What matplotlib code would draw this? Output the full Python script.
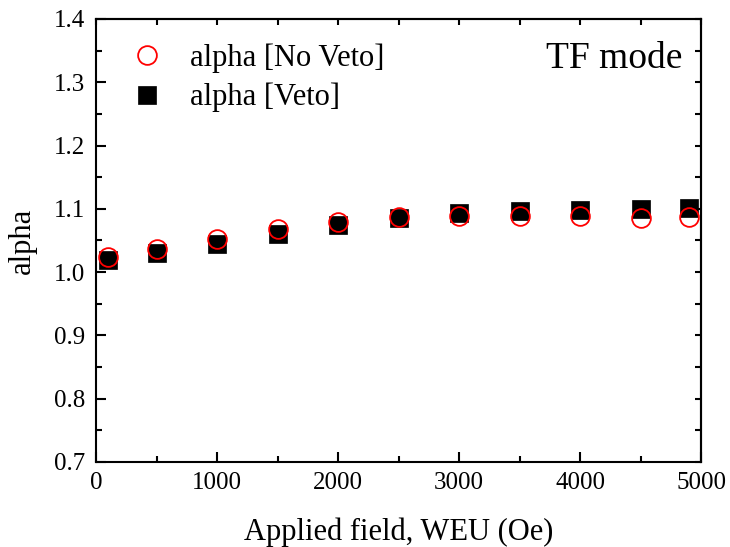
"""alpha vs applied field, TF mode: veto / no-veto comparison."""

import matplotlib
matplotlib.use("Agg")
import matplotlib.pyplot as plt
import matplotlib.ticker as ticker
import numpy as np

plt.rcParams["font.family"] = ["Liberation Serif", "DejaVu Serif"]

# field values (Oe)
field = [100, 500, 1000, 1500, 2000, 2500, 3000, 3500, 4000, 4500, 4900]
alpha_no_veto = [1.024, 1.036, 1.052, 1.068, 1.080, 1.087, 1.089, 1.089, 1.089, 1.085, 1.087]
alpha_veto = [1.019, 1.030, 1.045, 1.061, 1.074, 1.085, 1.093, 1.097, 1.098, 1.100, 1.102]

W, H = 730, 547
fig = plt.figure(figsize=(W / 100, H / 100), dpi=100)
ax = fig.add_axes([96 / W, (H - 462) / H, 605 / W, 443 / H])

ax.plot(field, alpha_veto, linestyle="none", marker="s", ms=12.5,
        mfc="black", mec="black", mew=0.5, label="alpha [Veto]", zorder=3)
ax.plot(field, alpha_no_veto, linestyle="none", marker="o", ms=13.5,
        mfc="none", mec="#ff0000", mew=1.3, label="alpha [No Veto]", zorder=4)

ax.set_xlim(0, 5000)
ax.set_ylim(0.7, 1.4)
ax.xaxis.set_major_locator(ticker.MultipleLocator(1000))
ax.xaxis.set_minor_locator(ticker.MultipleLocator(500))
ax.yaxis.set_major_locator(ticker.MultipleLocator(0.1))
ax.yaxis.set_minor_locator(ticker.MultipleLocator(0.05))
ax.yaxis.set_major_formatter(ticker.FormatStrFormatter("%.1f"))

for s in ax.spines.values():
    s.set_linewidth(1.5)
ax.tick_params(which="both", direction="in", width=1.5, labelsize=18)
ax.tick_params(which="major", length=7)
ax.tick_params(which="minor", length=4)
ax.tick_params(axis="x", pad=7)
ax.tick_params(axis="y", pad=8)

# top / right: short ticks only, no labels
top = ax.secondary_xaxis("top")
top.set_xticks(np.arange(0, 5001, 500))
top.tick_params(direction="in", length=4, width=1.5, labeltop=False)
top.xaxis.set_minor_locator(ticker.NullLocator())
right = ax.secondary_yaxis("right")
right.set_yticks(np.arange(0.7, 1.401, 0.05))
right.tick_params(direction="in", length=4, width=1.5, labelright=False)
right.yaxis.set_minor_locator(ticker.NullLocator())
for s in list(top.spines.values()) + list(right.spines.values()):
    s.set_linewidth(1.5)

ax.set_xlabel("Applied field, WEU (Oe)", fontsize=22, labelpad=17)
ax.set_ylabel("alpha", fontsize=22, labelpad=12)

handles, labels = ax.get_legend_handles_labels()
ax.legend(handles[::-1], labels[::-1], loc="upper left", bbox_to_anchor=(0.034, 0.973),
          frameon=False, fontsize=22, handletextpad=0.8, labelspacing=0.33,
          handlelength=1.2, borderaxespad=0)

ax.text(0.970, 0.889, "TF mode", transform=ax.transAxes, ha="right",
        va="baseline", fontsize=27)

fig.savefig("out.png", dpi=100)
